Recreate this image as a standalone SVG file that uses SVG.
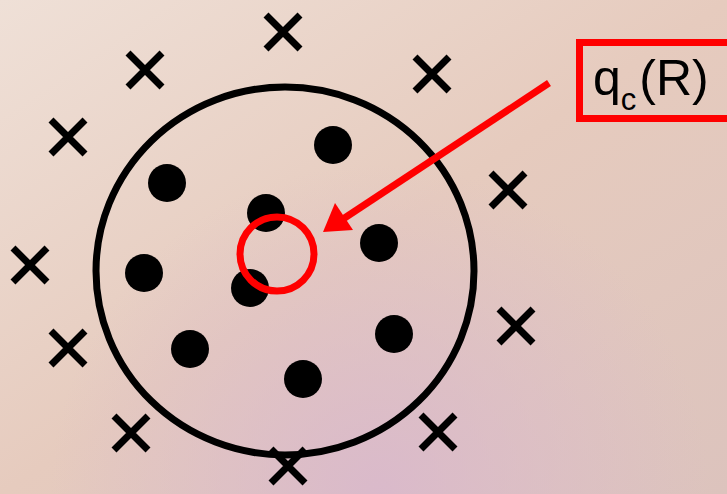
<svg xmlns="http://www.w3.org/2000/svg" width="727" height="494" viewBox="0 0 727 494">
<defs>
<linearGradient id="bg" x1="0" y1="0" x2="1" y2="1">
<stop offset="0" stop-color="#efe0d7"/>
<stop offset="0.5" stop-color="#e6cbbe"/>
<stop offset="1" stop-color="#dcc3bd"/>
</linearGradient>
<radialGradient id="pink" cx="380" cy="494" r="330" gradientUnits="userSpaceOnUse">
<stop offset="0" stop-color="#d9b8cc" stop-opacity="0.9"/>
<stop offset="1" stop-color="#d9b8cc" stop-opacity="0"/>
</radialGradient>
<style>
.x{stroke:#000;stroke-width:7;fill:none}
.d{fill:#000}
.r{stroke:#ff0000;fill:none;stroke-width:7}
</style>
</defs>
<rect width="727" height="494" fill="url(#bg)"/>
<rect width="727" height="494" fill="url(#pink)"/>
<g id="boundary"><ellipse cx="285" cy="271" rx="189" ry="184" fill="none" stroke="#000" stroke-width="7"/></g>
<g id="particles">
<circle class="d" cx="333" cy="145" r="19"/>
<circle class="d" cx="167" cy="183" r="19"/>
<circle class="d" cx="266" cy="213" r="19"/>
<circle class="d" cx="379" cy="243" r="19"/>
<circle class="d" cx="144" cy="273" r="19"/>
<circle class="d" cx="250" cy="288" r="19"/>
<circle class="d" cx="394" cy="334" r="19"/>
<circle class="d" cx="190" cy="349" r="19"/>
<circle class="d" cx="303" cy="379" r="19"/>
</g>
<g id="crosses">
<path class="x" d="M266 15l34 34M300 15l-34 34"/>
<path class="x" d="M128 53l34 34M162 53l-34 34"/>
<path class="x" d="M415 57l34 34M449 57l-34 34"/>
<path class="x" d="M51 120l34 34M85 120l-34 34"/>
<path class="x" d="M491 173l34 34M525 173l-34 34"/>
<path class="x" d="M13 248l34 34M47 248l-34 34"/>
<path class="x" d="M499 309l34 34M533 309l-34 34"/>
<path class="x" d="M51 331l34 34M85 331l-34 34"/>
<path class="x" d="M114 416l34 34M148 416l-34 34"/>
<path class="x" d="M421 415l34 34M455 415l-34 34"/>
<path class="x" d="M271 449l34 34M305 449l-34 34"/>
</g>
<g id="probe"><circle class="r" cx="277" cy="254" r="37"/></g>
<g id="connectors">
<line class="r" x1="549" y1="83" x2="340" y2="221"/>
<polygon points="323,232 335,203 353,230" fill="#ff0000"/>
</g>
<g id="label">
<rect x="579.5" y="42.5" width="160" height="76" fill="none" stroke="#ff0000" stroke-width="7"/>
<text x="593" y="95" font-family="Liberation Sans, Arial, sans-serif" font-size="50" fill="#000">q<tspan font-size="31" dy="15">c</tspan><tspan dy="-15" dx="3">(R)</tspan></text>
</g>
</svg>
